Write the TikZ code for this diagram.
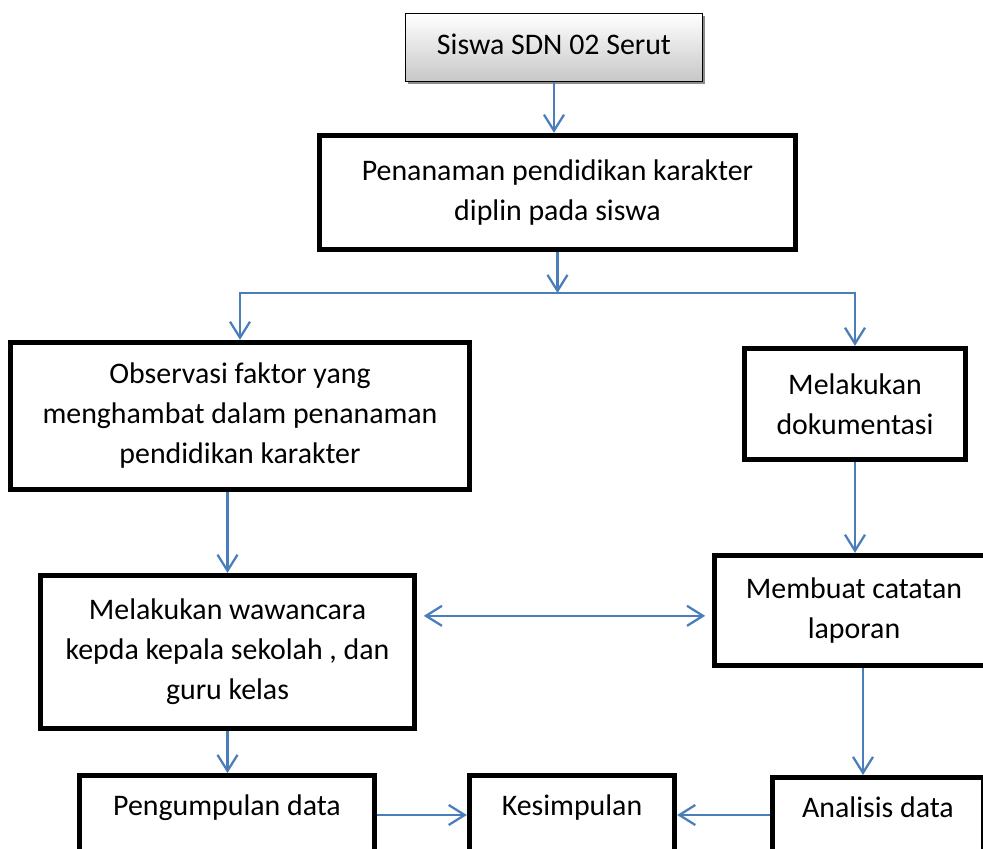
\documentclass[tikz,border=0pt]{standalone}
\usepackage{fontspec}
\setmainfont{Carlito}
\usetikzlibrary{shapes,shadows,arrows.meta,calc}
\definecolor{arrowblue}{RGB}{74,126,187}
\tikzstyle{line} = [draw, color=arrowblue, line width=1.7pt, >={Straight Barb[length=12pt,width=15pt]}, ->]
\tikzstyle{box} = [rectangle, draw, line width=4pt, fill=white, align=center, font=\fontsize{22.4}{30}\selectfont]
\tikzstyle{start} = [rectangle, draw, line width=1pt, top color=white, bottom color=black!22, drop shadow={shadow xshift=2pt, shadow yshift=-2pt, fill=black!45, opacity=1}, font=\fontsize{22.4}{30}\selectfont]
\tikzstyle{lowbox} = [box, anchor=north, inner ysep=0pt, text height=29.5pt, text depth=80pt]

\begin{document}
\begin{tikzpicture}[x=0.75pt, y=-0.75pt]
	\useasboundingbox (0,0) rectangle (983,849);
	\clip (0,0) rectangle (983,849);
	
	\node [start, minimum width=222.75pt, minimum height=51pt, text depth=5pt] (siswa) at (554,47.5) {Siswa SDN 02 Serut};
	\node [box, minimum width=357pt, minimum height=85.5pt] (pen) at (557.5,192.5) {Penanaman pendidikan karakter\\diplin pada siswa};
	\path [line] (siswa.south) to (siswa.south |- pen.north);
	
	\node [box, minimum width=344.25pt, minimum height=110.25pt] (obs) at (240,416) {Observasi faktor yang\\menghambat dalam penanaman\\pendidikan karakter};
	\node [box, minimum width=165.75pt, minimum height=83.25pt] (dok) at (855,404) {Melakukan\\dokumentasi};
	\coordinate (split) at (557.5,293);
	\path [line] (pen.south) to (split);
	\path [line] (split) -| (obs.north);
	\path [line] (split) -| (dok.north);
	
	\node [box, minimum width=280.5pt, minimum height=114.75pt] (waw) at (227.5,652) {Melakukan wawancara\\kepda kepala sekolah , dan\\guru kelas};
	\node [box, minimum width=209.25pt, minimum height=82.5pt] (cat) at (854,610.5) {Membuat catatan\\laporan};
	\path [line] (obs.south -| waw.north) to (waw.north);
	\path [line] (dok.south) to (dok.south |- cat.north);
	\coordinate (mid) at ([yshift=-4pt]cat.west);
	\path [line, <->, shorten <=5pt, shorten >=5pt] (waw.east |- mid) to (mid);
	
	% bottom row, cut off by the page
	\node [lowbox, minimum width=221.25pt] (kump) at (227,773) {Pengumpulan data};
	\node [lowbox, minimum width=153.75pt] (kes) at (572,773) {Kesimpulan};
	\node [lowbox, minimum width=158.25pt] (ana) at (878,775) {Analisis data};
	\path [line] (waw.south) to (waw.south |- kump.north);
	\coordinate (catout) at ([xshift=6.75pt]cat.south);
	\path [line] (catout) to (catout |- ana.north);
	\path [line] (kump.base -| kump.east) to (kes.base -| kes.west);
	\path [line] (kes.base -| ana.west) to (kes.base -| kes.east);
\end{tikzpicture}
\end{document}
